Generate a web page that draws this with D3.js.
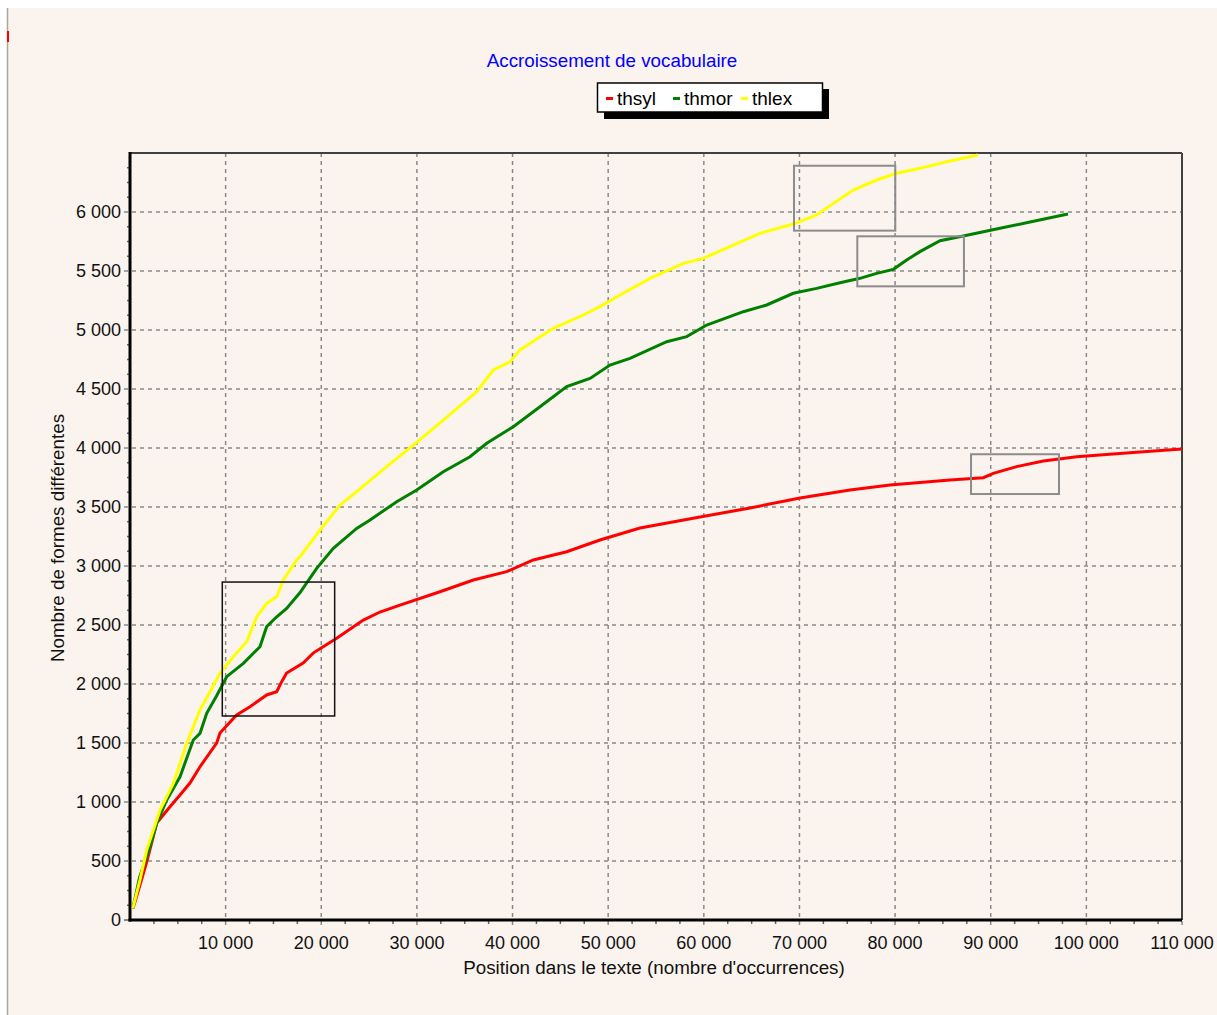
<!DOCTYPE html>
<html><head><meta charset="utf-8">
<script src="https://cdn.jsdelivr.net/npm/d3@7"></script>
<style>html,body{margin:0;padding:0;background:#fff;} svg{display:block;}</style>
</head><body>
<svg id="chart" width="1217" height="1015"></svg>
<script>
const chartTitle = "Accroissement de vocabulaire";
const xTitle = "Position dans le texte (nombre d'occurrences)";
const yTitle = "Nombre de formes différentes";
const seriesNames = ["thsyl", "thmor", "thlex"];
const seriesColors = ["#ff0000", "#008000", "#ffff00"];
const xTickValues = [10000,20000,30000,40000,50000,60000,70000,80000,90000,100000,110000];
const yTickValues = [0,500,1000,1500,2000,2500,3000,3500,4000,4500,5000,5500,6000];

const thsylX = [300,523,1745,2790,4180,5230,6270,7320,9060,9410,11150,12550,14290,15340,15860,16380,18100,19150,20200,21610,24400,26140,28230,32410,35900,39390,42170,45660,49140,53330,59600,64830,70060,75290,79470,85740,89230,90270,92710,95500,98990,101400,105600,110000];
const thsylY = [100,155,491,822,960,1059,1161,1299,1500,1585,1737,1808,1907,1935,2020,2093,2178,2262,2316,2387,2542,2610,2669,2782,2881,2952,3051,3121,3220,3322,3415,3492,3576,3644,3686,3729,3748,3785,3842,3890,3926,3941,3966,3992];

const thmorX = [300,1000,2090,2790,3840,5230,6620,7320,8020,9060,10110,11850,13590,14290,15340,16380,17780,19520,21260,23700,25100,27890,29980,32760,35550,37300,40080,42870,45660,48100,50190,52280,56120,58210,60300,64130,66570,69360,71800,74240,76330,78070,79820,81210,82600,84700,87130,90970,94110,98080];
const thmorY = [100,360,621,819,1017,1214,1525,1582,1751,1900,2062,2175,2316,2486,2570,2641,2775,2980,3150,3319,3390,3545,3644,3799,3926,4040,4180,4350,4520,4590,4703,4760,4901,4944,5042,5155,5212,5311,5353,5401,5438,5480,5514,5593,5664,5757,5797,5862,5915,5983];

const thlexX = [300,1045,1745,3140,4530,5930,7320,9410,10800,12200,13250,14290,15340,16030,17430,17775,19870,21960,23700,26840,29630,32760,36250,37990,39730,40780,44260,47400,49140,51240,54370,57860,59950,63080,65870,69360,71800,73540,75630,78070,80170,82600,85400,88650];
const thlexY = [100,339,593,932,1158,1497,1780,2090,2231,2358,2570,2684,2740,2881,3051,3079,3305,3517,3630,3842,4025,4237,4477,4661,4731,4831,5014,5127,5198,5297,5438,5565,5607,5720,5819,5898,5975,6073,6186,6271,6328,6370,6426,6483];

// highlight boxes in data coordinates [x0, x1, y0, y1]
const boxBlack = [[9650, 21400, 1729, 2864]];
const boxGray = [[69430, 80020, 5842, 6392],[76050, 87200, 5370, 5794],[87940, 97140, 3610, 3947]];

const svg = d3.select("#chart");
const W = 1217, H = 1015;
const plot = {l:130, r:1182, t:153, b:920};
const x = d3.scaleLinear().domain([0,110000]).range([plot.l, plot.r]);
const y = d3.scaleLinear().domain([0,6500]).range([plot.b, plot.t]);
const loc = d3.formatLocale({decimal:",", thousands:" ", grouping:[3], currency:["","€"]});
const fmt = loc.format(",d");
const font = "'Liberation Sans', Arial, sans-serif";

// background
svg.append("rect").attr("x",8).attr("y",8).attr("width",W-8).attr("height",H-8).attr("fill","#fbf3ee");
svg.append("line").attr("x1",7.5).attr("x2",7.5).attr("y1",8).attr("y2",H).attr("stroke","#a8a8a0").attr("stroke-width",1.5);
svg.append("rect").attr("x",7).attr("y",31).attr("width",2).attr("height",11).attr("fill","#ff0000");

// grid
const g = svg.append("g");
g.selectAll(".vg").data(xTickValues).join("line")
  .attr("x1",d=>x(d)).attr("x2",d=>x(d)).attr("y1",plot.t).attr("y2",plot.b+7)
  .attr("stroke","#8a8a8a").attr("stroke-width",1.5).attr("stroke-dasharray","4,4");
g.selectAll(".hg").data(yTickValues.filter(d=>d>0)).join("line")
  .attr("x1",plot.l-6).attr("x2",plot.r).attr("y1",d=>y(d)).attr("y2",d=>y(d))
  .attr("stroke","#8a8a8a").attr("stroke-width",1.5).attr("stroke-dasharray","4,4");

// minor ticks
const xMinor = d3.range(2500, 110001, 2500).filter(d=>d%10000!==0);
g.selectAll(".xm").data(xMinor).join("line")
  .attr("x1",d=>x(d)).attr("x2",d=>x(d)).attr("y1",plot.b).attr("y2",plot.b+4)
  .attr("stroke","#666").attr("stroke-width",1.5);
const yMinor = d3.range(125, 6500, 125).filter(d=>d%500!==0);
g.selectAll(".ym").data(yMinor).join("line")
  .attr("x1",plot.l-3).attr("x2",plot.l).attr("y1",d=>y(d)).attr("y2",d=>y(d))
  .attr("stroke","#666").attr("stroke-width",1.5);
g.append("line").attr("x1",plot.l-6).attr("x2",plot.l).attr("y1",y(0)).attr("y2",y(0)).attr("stroke","#666").attr("stroke-width",1.5);

// frame
svg.append("line").attr("x1",plot.l).attr("x2",plot.r).attr("y1",plot.t).attr("y2",plot.t).attr("stroke","#404040").attr("stroke-width",2);
svg.append("line").attr("x1",plot.r).attr("x2",plot.r).attr("y1",plot.t).attr("y2",plot.b).attr("stroke","#404040").attr("stroke-width",2);
svg.append("line").attr("x1",plot.l).attr("x2",plot.l).attr("y1",plot.t-1).attr("y2",plot.b+1.5).attr("stroke","#000").attr("stroke-width",3);
svg.append("line").attr("x1",plot.l-1.5).attr("x2",plot.r).attr("y1",plot.b).attr("y2",plot.b).attr("stroke","#000").attr("stroke-width",3);

// tick labels
svg.selectAll(".xl").data(xTickValues).join("text")
  .attr("x",d=>x(d)).attr("y",949).attr("text-anchor","middle")
  .attr("font-family",font).attr("font-size",18).attr("fill","#111").text(d=>fmt(d));
svg.selectAll(".yl").data(yTickValues).join("text")
  .attr("x",121).attr("y",d=>y(d)+6).attr("text-anchor","end")
  .attr("font-family",font).attr("font-size",18).attr("fill","#111").text(d=>fmt(d));

// axis titles
svg.append("text").attr("x",654).attr("y",974).attr("text-anchor","middle")
  .attr("font-family",font).attr("font-size",18.8).attr("fill","#111").text(xTitle);
svg.append("text").attr("transform","translate(64,538) rotate(-90)").attr("text-anchor","middle")
  .attr("font-family",font).attr("font-size",18.8).attr("fill","#111").text(yTitle);

// chart title
svg.append("text").attr("x",612).attr("y",67).attr("text-anchor","middle")
  .attr("font-family",font).attr("font-size",18.8).attr("fill","#0000ff").text(chartTitle);

// series
const series = [
  {name:seriesNames[0], color:seriesColors[0], xs:thsylX, ys:thsylY},
  {name:seriesNames[1], color:seriesColors[1], xs:thmorX, ys:thmorY},
  {name:seriesNames[2], color:seriesColors[2], xs:thlexX, ys:thlexY}
];
const line = d3.line().x(d=>x(d[0])).y(d=>y(d[1]));
series.forEach(s=>{
  svg.append("path").datum(s.xs.map((v,i)=>[v,s.ys[i]]))
    .attr("d",line).attr("fill","none").attr("stroke",s.color).attr("stroke-width",3)
    .attr("stroke-linejoin","miter");
});

// highlight boxes
svg.selectAll(".bb").data(boxBlack).join("rect")
  .attr("x",d=>x(d[0])).attr("y",d=>y(d[3])).attr("width",d=>x(d[1])-x(d[0])).attr("height",d=>y(d[2])-y(d[3]))
  .attr("fill","none").attr("stroke","#111").attr("stroke-width",1.5);
svg.selectAll(".bg").data(boxGray).join("rect")
  .attr("x",d=>x(d[0])).attr("y",d=>y(d[3])).attr("width",d=>x(d[1])-x(d[0])).attr("height",d=>y(d[2])-y(d[3]))
  .attr("fill","none").attr("stroke","#8c8c8c").attr("stroke-width",2);

// legend
const lg = svg.append("g");
lg.append("rect").attr("x",604).attr("y",89).attr("width",225).attr("height",30).attr("fill","#000");
lg.append("rect").attr("x",597.5).attr("y",83).attr("width",225).attr("height",29).attr("fill","#fff").attr("stroke","#000").attr("stroke-width",1.5);
const legendX = [606, 673, 741];
series.forEach((s,i)=>{
  lg.append("line").attr("x1",legendX[i]).attr("x2",legendX[i]+7).attr("y1",98.5).attr("y2",98.5)
    .attr("stroke",s.color).attr("stroke-width",3);
  lg.append("text").attr("x",legendX[i]+11).attr("y",105).attr("font-family",font).attr("font-size",19)
    .attr("fill","#000").text(s.name);
});
</script>
</body></html>
